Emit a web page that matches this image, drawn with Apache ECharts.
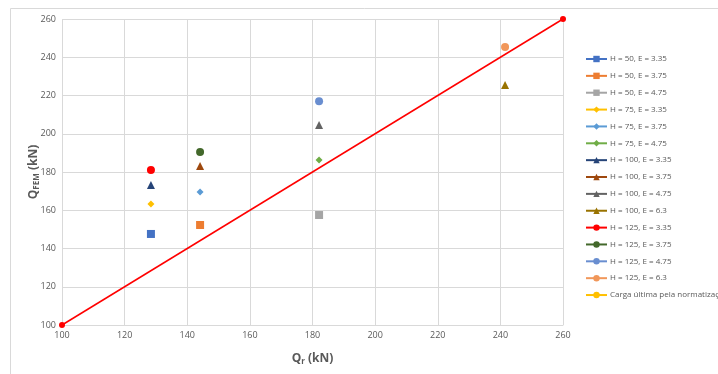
<!DOCTYPE html>
<html><head><meta charset="utf-8">
<script src="https://cdn.jsdelivr.net/npm/echarts@6/dist/echarts.min.js"></script>
<style>html,body{margin:0;padding:0;background:#fff;}#c{width:718px;height:374px;}</style>
</head><body><div id="c"></div>
<script>
const seriesNames = ['H = 50, E = 3.35','H = 50, E = 3.75','H = 50, E = 4.75','H = 75, E = 3.35','H = 75, E = 3.75','H = 75, E = 4.75','H = 100, E = 3.35','H = 100, E = 3.75','H = 100, E = 4.75','H = 100, E = 6.3','H = 125, E = 3.35','H = 125, E = 3.75','H = 125, E = 4.75','H = 125, E = 6.3','Carga última pela normatização'];
const xValues = [128.4,144.1,182.1,128.4,144.1,182.1,128.4,144.1,182.1,241.5,128.4,144.1,182.1,241.5];
const yValues = [147.6,152.3,157.5,163.3,169.5,186.3,173.2,183.1,204.6,225.5,181.0,190.5,217.0,245.4];
const refLineX = [100,260];
const refLineY = [100,260];
const xTicks = [100,120,140,160,180,200,220,240,260];
const yTicks = [100,120,140,160,180,200,220,240,260];

const colors = ['#4472C4','#ED7D31','#A5A5A5','#FFC000','#5B9BD5','#70AD47','#264478','#9E480E','#636363','#997300','#FF0000','#43682B','#698ED0','#F1975A','#FFC000'];
const shapes = ['rect','rect','rect','diamond','diamond','diamond','triangle','triangle','triangle','triangle','circle','circle','circle','circle','circle'];
const sizes = {rect:8, diamond:7, triangle:8, circle:8};

const series = [];
for (let i = 0; i < seriesNames.length; i++) {
  const data = i < xValues.length ? [[xValues[i], yValues[i]]] : [];
  series.push({
    name: seriesNames[i], type: 'line', data: data,
    symbol: shapes[i], symbolSize: sizes[shapes[i]],
    itemStyle: {color: colors[i]},
    lineStyle: {width: 2, color: colors[i], opacity: 0},
    z: 3
  });
}
series.push({
  name: 'ref', type: 'line',
  data: refLineX.map((v, i) => [v, refLineY[i]]),
  symbol: 'circle', symbolSize: 6,
  itemStyle: {color: '#FF0000'},
  lineStyle: {color: '#FF0000', width: 1.5},
  z: 2
});

const richName = {
  q: {fontSize: 12, fontWeight: 'bold', color: '#595959', fontFamily: 'Open Sans'},
  s: {fontSize: 8, fontWeight: 'bold', color: '#595959', fontFamily: 'Open Sans', verticalAlign: 'bottom', padding:[6,0,0,0]},
  n: {fontSize: 12, fontWeight: 'bold', color: '#595959', fontFamily: 'Open Sans'}
};

const chart = echarts.init(document.getElementById('c'));
chart.setOption({
  animation: false,
  graphic: [{type:'rect', shape:{x:10.5,y:8.5,width:720,height:380}, style:{fill:'none', stroke:'#d9d9d9', lineWidth:1}, z:-10}],
  grid: {left: 62, right: 155, top: 19, bottom: 49},
  xAxis: {
    type: 'value', min: 100, max: 260, interval: 20,
    name: '{q|Q}{s|r}{n| (kN)}', nameLocation: 'middle', nameGap: 27, nameMoveOverlap: false,
    nameTextStyle: {rich: richName},
    axisLine: {show: true, lineStyle: {color: '#d9d9d9'}},
    axisTick: {show: false},
    axisLabel: {color: '#595959', fontSize: 9, fontFamily: 'Open Sans', margin: 6,
      formatter: v => xTicks.includes(v) ? String(v) : ''},
    splitLine: {show: true, lineStyle: {color: '#d9d9d9'}}
  },
  yAxis: {
    type: 'value', min: 100, max: 260, interval: 20,
    name: '{q|Q}{s|FEM}{n| (kN)}', nameLocation: 'middle', nameGap: 21, nameRotate: 90, nameMoveOverlap: false,
    nameTextStyle: {rich: richName},
    axisLine: {show: false},
    axisTick: {show: false},
    axisLabel: {color: '#595959', fontSize: 9, fontFamily: 'Open Sans', margin: 6,
      formatter: v => yTicks.includes(v) ? String(v) : ''},
    splitLine: {show: true, lineStyle: {color: '#d9d9d9'}}
  },
  legend: {
    orient: 'vertical', left: 585, top: 54, padding: 0,
    data: seriesNames,
    itemWidth: 21, itemHeight: 8, itemGap: 6.86,
    lineStyle: {opacity: 1, width: 2},
    textStyle: {fontSize: 8, color: '#595959', fontFamily: 'Open Sans', lineHeight: 10, padding: [0,0,0,-2]},
    selectedMode: false
  },
  series: series
});
</script></body></html>
